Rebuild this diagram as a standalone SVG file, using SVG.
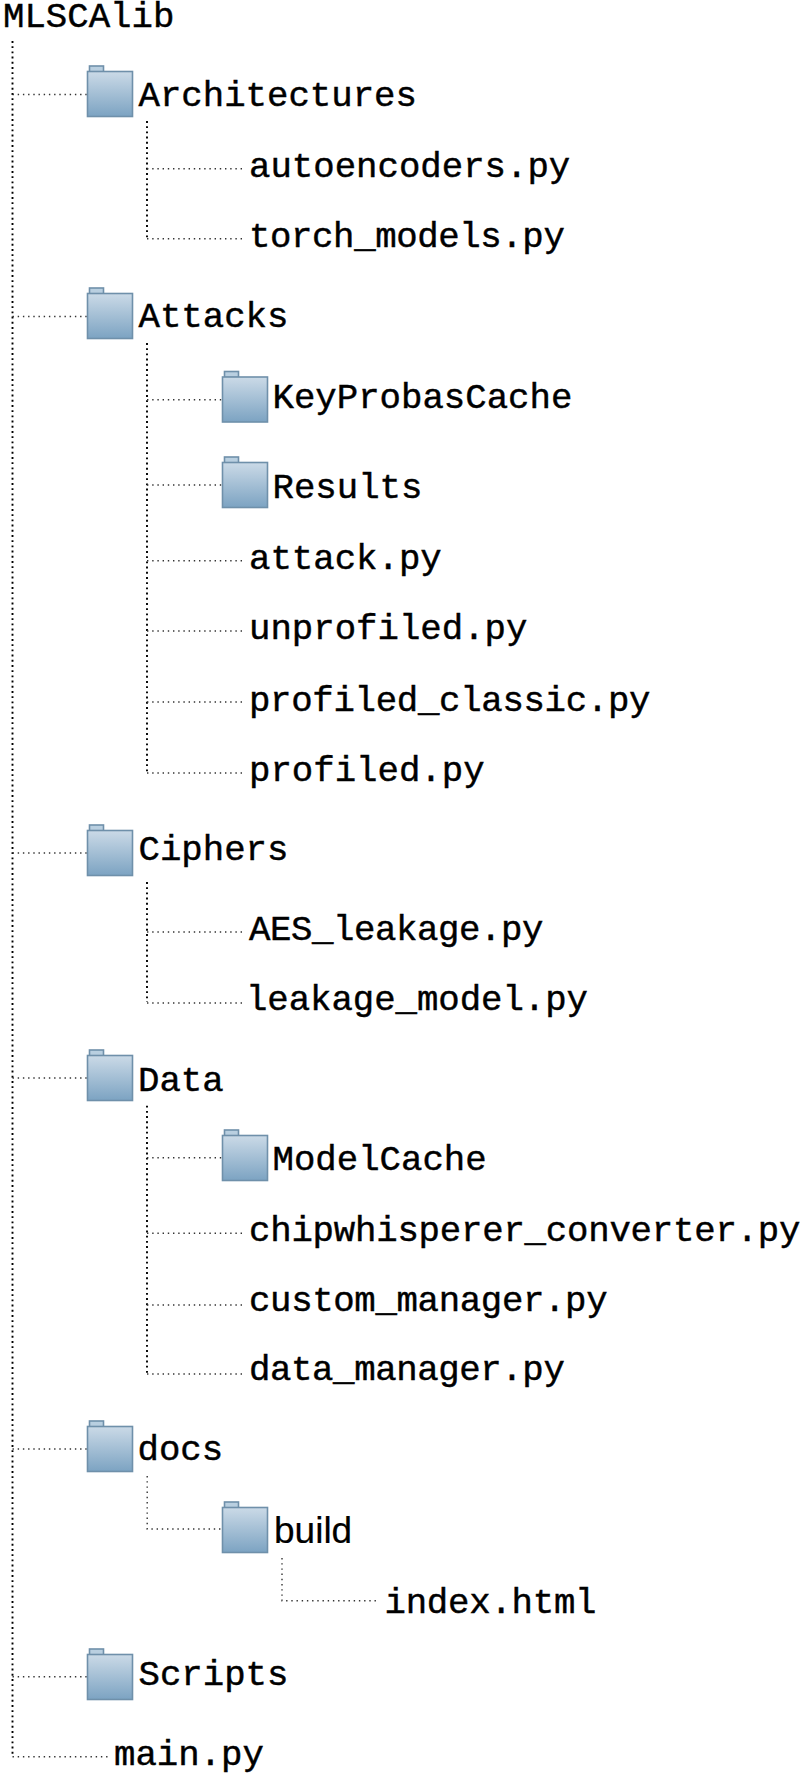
<svg xmlns="http://www.w3.org/2000/svg" width="806" height="1783" viewBox="0 0 806 1783">
<style>
text{font-family:"Liberation Mono",monospace;font-size:35.7px;fill:#000;stroke:#000;stroke-width:.45}
text.s{font-family:"Liberation Sans",Arial,sans-serif;font-size:37px;stroke-width:.2}
#connectors path{fill:none;stroke:#333;stroke-width:1.4;stroke-dasharray:1.4 3.8}
#connectors path.v{stroke:#000;stroke-width:1.9;stroke-dasharray:1.9 3.3}
.body{fill:url(#g);stroke:#6f90aa;stroke-width:1.6}
.tab{fill:#b9cfe0;stroke:#6f90aa;stroke-width:1.6}
</style>
<defs>
<linearGradient id="g" x1="0" y1="0" x2="0" y2="1"><stop offset="0" stop-color="#cbdae7"/><stop offset="1" stop-color="#7ca3c2"/></linearGradient>
<symbol id="f" overflow="visible"><rect class="tab" x="2.5" y="-5" width="14" height="6"/><rect class="body" x="0.5" y="0.5" width="45" height="45"/></symbol>
</defs>
<g id="connectors">
<path class="v" d="M12.5 41V1756"/>
<path d="M12.5 1756.7H111"/>
<path d="M12.5 94.5H87M12.5 316.5H87M12.5 853H87M12.5 1078H87M12.5 1449H87M12.5 1676.7H87"/>
<path class="v" d="M147 121V238"/><path d="M147 238.7H245M147 168.7H245"/>
<path class="v" d="M147 343V772"/><path d="M147 773H245M147 399.7H222M147 485H222M147 560.7H245M147 631H245M147 702H245"/>
<path class="v" d="M147 882V1002"/><path d="M147 1003H245M147 932H245"/>
<path class="v" d="M147 1105.7V1373"/><path d="M147 1374H245M147 1157.7H222M147 1233.3H245M147 1305H245"/>
<path d="M147.2 1476V1529H222"/>
<path d="M282 1558V1600.7H377"/>
</g>
<g id="root"><text x="3" y="27">MLSCAlib</text></g>
<g id="architectures"><use href="#f" x="87" y="71"/><text x="138.5" y="106">Architectures</text></g>
<g id="autoencoders"><text x="249" y="177">autoencoders.py</text></g>
<g id="torch_models"><text x="249" y="247" textLength="315.8">torch_models.py</text></g>
<g id="attacks"><use href="#f" x="87" y="293"/><text x="138.5" y="327">Attacks</text></g>
<g id="keyprobascache"><use href="#f" x="222" y="376.5"/><text x="272.5" y="407.5">KeyProbasCache</text></g>
<g id="results"><use href="#f" x="222" y="462"/><text x="272.5" y="497.5">Results</text></g>
<g id="attack"><text x="249" y="568.5">attack.py</text></g>
<g id="unprofiled"><text x="249" y="639">unprofiled.py</text></g>
<g id="profiled_classic"><text x="249" y="711" textLength="401.5">profiled_classic.py</text></g>
<g id="profiled"><text x="249" y="781">profiled.py</text></g>
<g id="ciphers"><use href="#f" x="87" y="830"/><text x="138.5" y="860">Ciphers</text></g>
<g id="aes_leakage"><text x="249" y="940" textLength="294.4">AES_leakage.py</text></g>
<g id="leakage_model"><text x="246" y="1010" textLength="342">leakage_model.py</text></g>
<g id="data"><use href="#f" x="87" y="1055"/><text x="138" y="1090.5">Data</text></g>
<g id="modelcache"><use href="#f" x="222" y="1135"/><text x="272.5" y="1169.5">ModelCache</text></g>
<g id="chipwhisperer"><text x="249" y="1241" textLength="551.4">chipwhisperer_converter.py</text></g>
<g id="custom_manager"><text x="249" y="1311" textLength="358.6">custom_manager.py</text></g>
<g id="data_manager"><text x="249" y="1380" textLength="315.8">data_manager.py</text></g>
<g id="docs"><use href="#f" x="87" y="1426"/><text x="137.5" y="1460">docs</text></g>
<g id="build"><use href="#f" x="222" y="1507"/><text class="s" x="274" y="1543">build</text></g>
<g id="index"><text x="384.5" y="1613" textLength="212">index.html</text></g>
<g id="scripts"><use href="#f" x="87" y="1654"/><text x="138.5" y="1684.5">Scripts</text></g>
<g id="main"><text x="114" y="1765">main.py</text></g>
</svg>
